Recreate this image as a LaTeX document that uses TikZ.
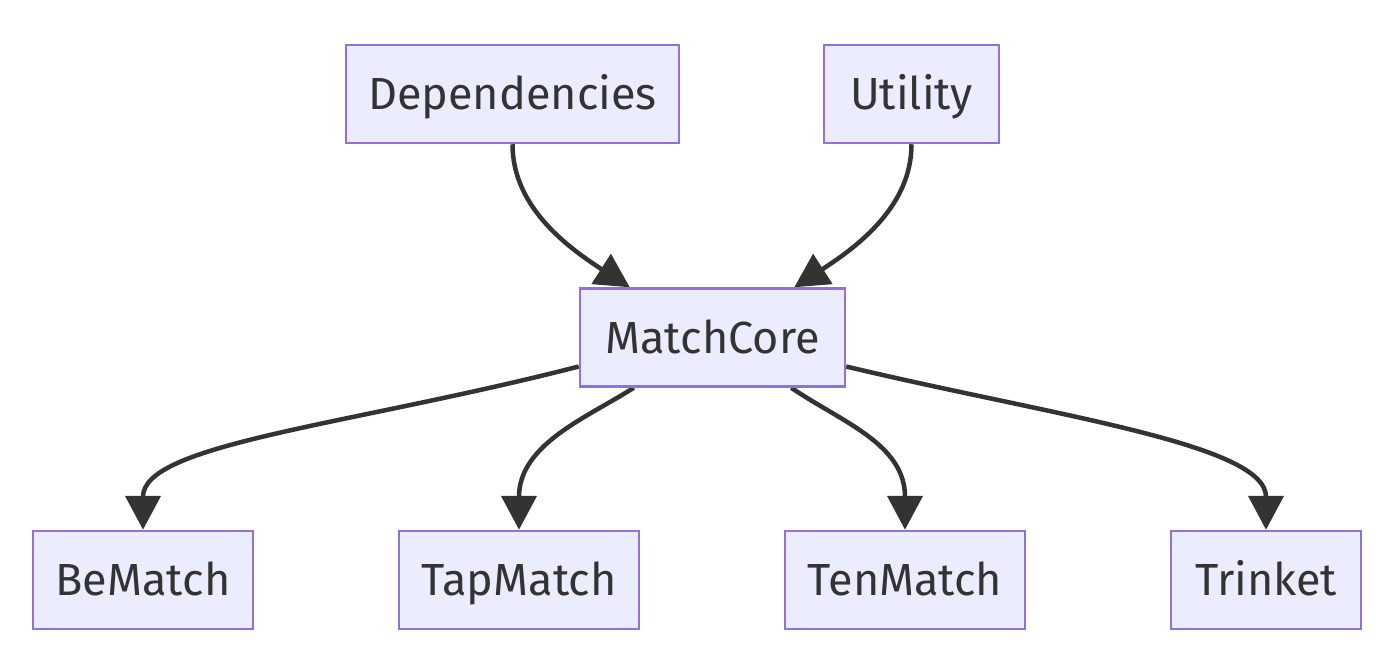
\documentclass[tikz,border=0pt]{standalone}
\usepackage{fontspec}
\setmainfont{Fira Sans}
\usetikzlibrary{arrows.meta,backgrounds}
\definecolor{nodefill}{HTML}{ECECFF}
\definecolor{nodeborder}{HTML}{9370DB}
\definecolor{edgecol}{HTML}{333333}
\begin{document}
\begin{tikzpicture}[x=1pt,y=-1pt,
  box/.style={draw=nodeborder,fill=nodefill,line width=2.5pt,minimum height=98pt,
    inner sep=0pt,text height=31pt,text depth=0pt,
    font=\fontsize{45}{54}\selectfont,text=edgecol},
  edge/.style={draw=edgecol,line width=4.5pt,-{Triangle[width=35pt,length=34pt]}}]
\useasboundingbox (0,0) rectangle (1400,662);
\node[box,minimum width=333pt] (dep) at (512.5,94) {Dependencies};
\node[box,minimum width=175pt] (util) at (911.5,94) {Utility};
\node[box,minimum width=265pt] (core) at (712.5,337.5) {MatchCore};
\node[box,minimum width=220pt] (be) at (143,580) {BeMatch};
\node[box,minimum width=240pt] (tap) at (519,580) {TapMatch};
\node[box,minimum width=240pt] (ten) at (905,580) {TenMatch};
\node[box,minimum width=190pt] (tri) at (1266,580) {Trinket};
\begin{scope}[on background layer]
\draw[edge] (dep.south) .. controls +(0,60) and +(-67,-43) .. ([xshift=51pt]core.north west);
\draw[edge] (util.south) .. controls +(0,60) and +(67,-43) .. ([xshift=-52pt]core.north east);
\draw[edge] ([yshift=-29pt]core.west) .. controls +(-230,59) and +(0,-86) .. (be.north);
\draw[edge] ([xshift=55pt]core.south west) .. controls +(-45,29) and +(0,-86) .. (tap.north);
\draw[edge] ([xshift=-55pt]core.south east) .. controls +(50,34) and +(0,-86) .. (ten.north);
\draw[edge] ([yshift=-29pt]core.east) .. controls +(205,49) and +(0,-86) .. (tri.north);
\end{scope}
\end{tikzpicture}
\end{document}
